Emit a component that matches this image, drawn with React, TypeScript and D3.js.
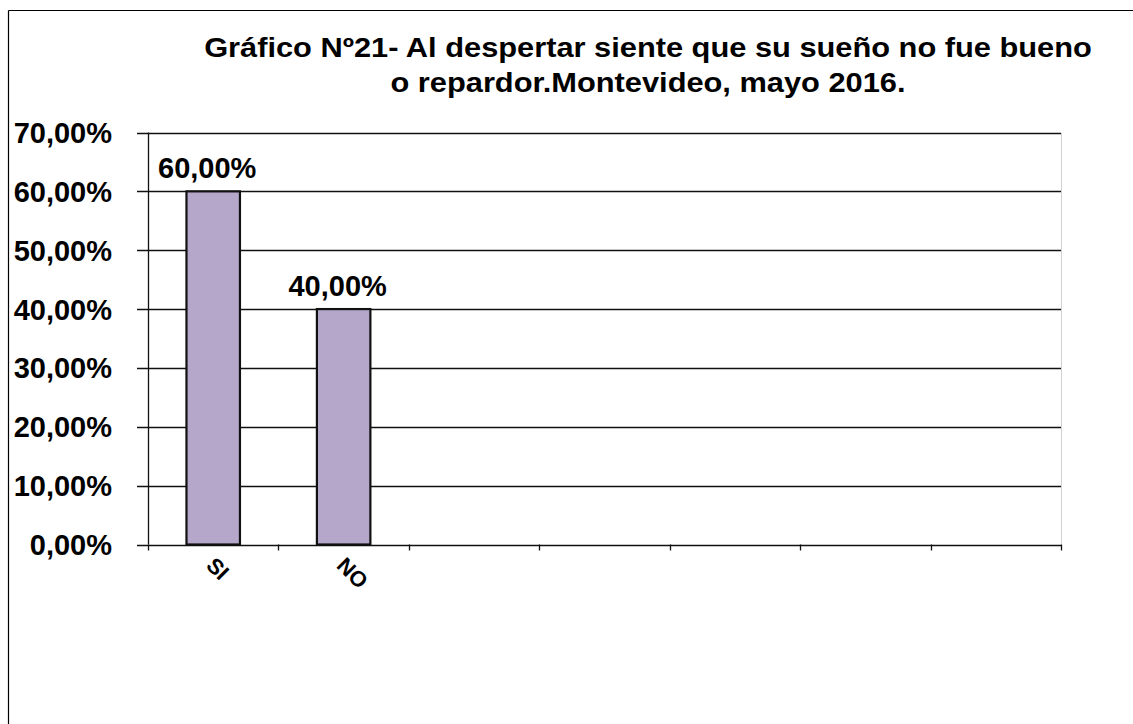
import * as d3 from "d3";

// chart data
const categories = ["SI", "NO", "", "", "", "", ""];
const values = [0.6, 0.4];
const yTicks = [0, 0.1, 0.2, 0.3, 0.4, 0.5, 0.6, 0.7];
const titleLines = [
  "Gráfico Nº21- Al despertar siente que su sueño no fue bueno",
  "o repardor.Montevideo, mayo 2016.",
];

const W = 1133;
const H = 724;
const font = "'Liberation Sans', Arial, sans-serif";

const esLocale = d3.formatLocale({
  decimal: ",",
  thousands: ".",
  grouping: [3],
  currency: ["", "€"],
});
const pct = esLocale.format(".2%");

const plot = { left: 148, right: 1061, top: 132.5, bottom: 544.5 };

export default function App() {
  const x = d3
    .scaleBand<number>()
    .domain(d3.range(categories.length))
    .range([plot.left, plot.right])
    .padding(0);
  const y = d3.scaleLinear().domain([0, 0.7]).range([plot.bottom, plot.top]);
  const barW = x.bandwidth() * 0.41;

  return (
    <svg
      width={W}
      height={H}
      style={{ position: "fixed", left: 0, top: 0, background: "#fff" }}
      fontFamily={font}
    >
      <rect x={0} y={0} width={W} height={H} fill="#fff" />
      {/* outer frame */}
      <line x1={8.5} y1={10.5} x2={W} y2={10.5} stroke="#000" strokeWidth={1.2} />
      <line x1={8.5} y1={10.5} x2={8.5} y2={H} stroke="#000" strokeWidth={1.2} />

      {/* title (source text is slightly wide, so stretch a bit) */}
      <g transform="translate(648,0) scale(1.1,1)">
        {titleLines.map((t, i) => (
          <text
            key={i}
            x={0}
            y={57 + i * 35}
            textAnchor="middle"
            fontSize={28}
            fontWeight="bold"
            fill="#000"
          >
            {t}
          </text>
        ))}
      </g>

      {/* plot border right */}
      <line
        x1={plot.right + 0.5}
        x2={plot.right + 0.5}
        y1={plot.top}
        y2={plot.bottom}
        stroke="#d0d0d0"
      />

      {/* gridlines + y ticks */}
      {yTicks.map((t) => (
        <g key={t}>
          <line
            x1={plot.left - 11}
            x2={plot.right}
            y1={Math.round(y(t)) + 0.5}
            y2={Math.round(y(t)) + 0.5}
            stroke="#111"
            strokeWidth={1.3}
          />
          <text
            x={112}
            y={y(t)}
            dy="0.36em"
            textAnchor="end"
            fontSize={29}
            fontWeight="bold"
            fill="#000"
          >
            {pct(t)}
          </text>
        </g>
      ))}

      {/* y axis */}
      <line
        x1={plot.left + 0.5}
        x2={plot.left + 0.5}
        y1={plot.top}
        y2={plot.bottom}
        stroke="#111"
        strokeWidth={1.3}
      />

      {/* bars */}
      {values.map((v, i) => {
        const cx = (x(i) ?? 0) + x.bandwidth() / 2;
        return (
          <g key={i}>
            <rect
              x={cx - barW / 2}
              y={y(v)}
              width={barW}
              height={y(0) - y(v)}
              fill="#b4a7ca"
              stroke="#111"
              strokeWidth={2.2}
            />
            <text
              x={cx - 6}
              y={y(v) - 13}
              textAnchor="middle"
              fontSize={29}
              fontWeight="bold"
              fill="#000"
            >
              {pct(v)}
            </text>
          </g>
        );
      })}

      {/* x ticks */}
      {d3.range(categories.length + 1).map((i) => {
        const tx = Math.round(plot.left + i * x.step()) + 0.5;
        return (
          <line
            key={i}
            x1={tx}
            x2={tx}
            y1={plot.bottom}
            y2={plot.bottom + 6}
            stroke="#111"
            strokeWidth={1.3}
          />
        );
      })}

      {/* x labels */}
      {categories.map((c, i) => {
        const cx = (x(i) ?? 0) + x.bandwidth() / 2;
        return (
          <text
            key={i}
            transform={`translate(${cx + 3},${plot.bottom + 11}) rotate(45)`}
            fontSize={22}
            fontWeight="bold"
            fill="#000"
            dy="0.72em"
          >
            {c}
          </text>
        );
      })}
    </svg>
  );
}
